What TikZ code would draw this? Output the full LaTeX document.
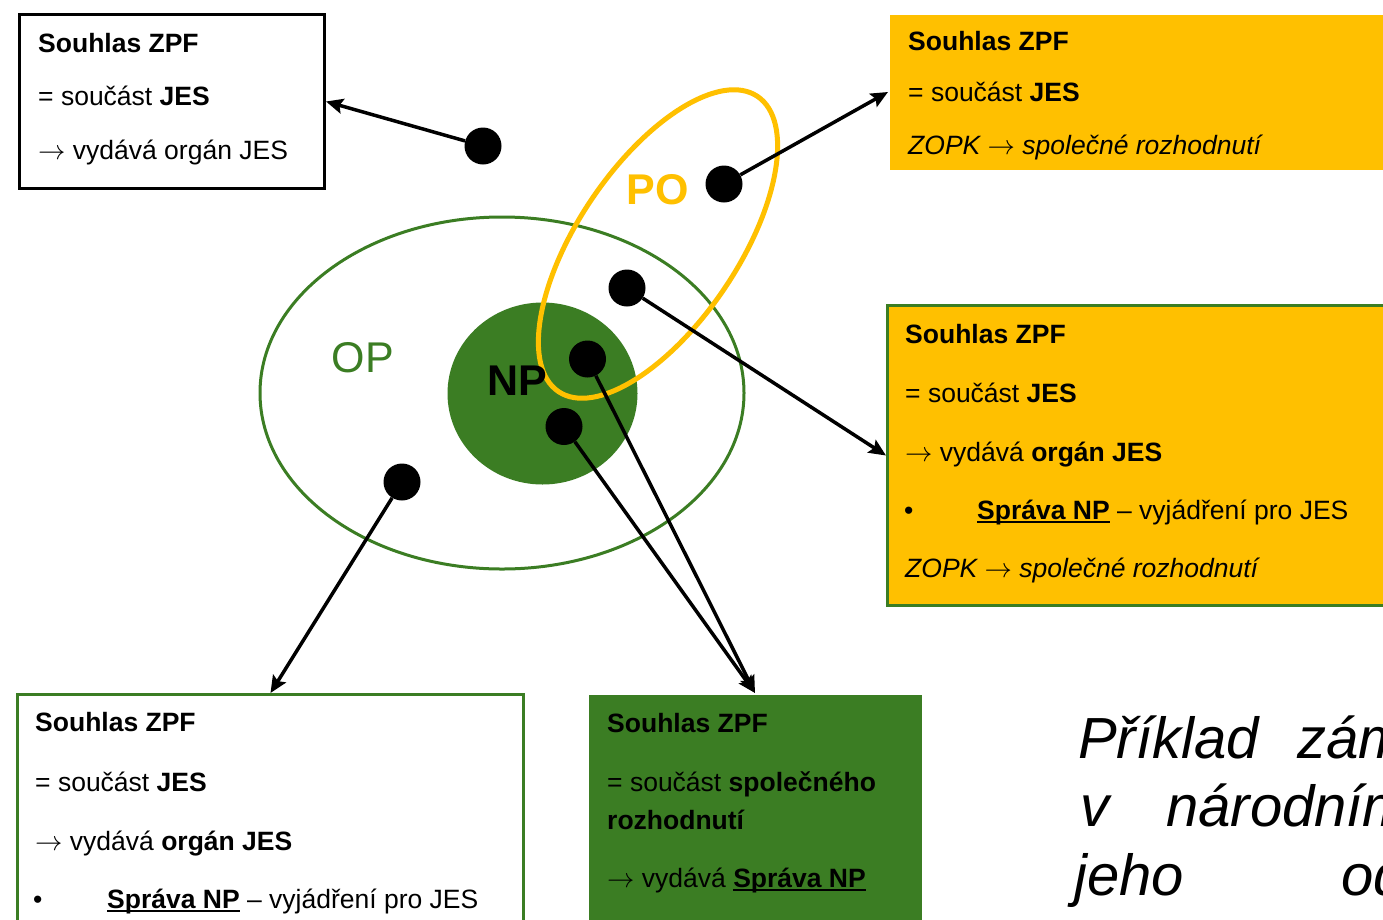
\documentclass[tikz,border=0pt]{standalone}
\usepackage{fontspec}
\setmainfont{Liberation Sans}
\usetikzlibrary{arrows.meta}

\definecolor{zpfyellow}{HTML}{FFC000}
\definecolor{zpfgreen}{HTML}{3B7D23}

% underlined bold name of the park office
\newcommand\spravanp{\setbox0=\hbox{\textbf{Správa NP}}\rlap{\rule[-3.5pt]{\wd0}{2pt}}\box0}
\newcommand\toarr{\scalebox{1.1}{$\rightarrow$}}

\tikzset{
  dot/.style={circle, fill=black, minimum size=37pt, inner sep=0pt},
  arr/.style={-{Stealth[length=17pt, width=15pt, inset=3pt]}, line width=3.5pt},
  zpfbox/.style={rectangle, line width=3pt, anchor=north west, inner sep=0pt},
  txt/.style={anchor=base west, inner sep=0pt, font=\fontsize{26.5}{30}\selectfont},
  bigtxt/.style={anchor=base west, inner sep=0pt, font=\fontsize{58}{68}\selectfont\itshape},
  lbl/.style={inner sep=0pt, font=\fontsize{43}{50}\selectfont}
}

\begin{document}
\begin{tikzpicture}[x=1pt, y=-1pt]
    \clip (0,0) rectangle (1383,919);
    \fill[white] (0,0) rectangle (1383,919);

    % areas
    \draw[zpfgreen, line width=3pt] (502,393) ellipse [x radius=242, y radius=176];
    \fill[zpfgreen] (542.5,393.5) ellipse [x radius=95, y radius=91];
    \draw[zpfyellow, line width=5pt, rotate around={56:(658,244)}] (658,244) ellipse [x radius=178, y radius=80];

    \node[lbl, text=zpfgreen] (op) at (363,358) {OP};
    \node[lbl, font=\fontsize{43}{50}\selectfont\bfseries] (np) at (517,381) {NP};
    \node[lbl, text=zpfyellow, font=\fontsize{43}{50}\selectfont\bfseries] (po) at (658,190) {PO};

    % boxes
    \node[zpfbox, draw=black, fill=white, minimum width=305pt, minimum height=174pt] (boxA) at (18,13) {};
    \node[zpfbox, fill=zpfyellow, minimum width=520pt, minimum height=155pt] (boxB) at (888,13) {};
    \node[zpfbox, draw=zpfgreen, fill=zpfyellow, minimum width=520pt, minimum height=300pt] (boxC) at (886,304) {};
    \node[zpfbox, draw=zpfgreen, fill=white, minimum width=506pt, minimum height=260pt] (boxD) at (16,693) {};
    \node[zpfbox, fill=zpfgreen, minimum width=333pt, minimum height=260pt] (boxE) at (587,693) {};

    \node[txt] (a1) at (38,52) {\textbf{Souhlas ZPF}};
    \node[txt] (a2) at (38,105) {= součást \textbf{JES}};
    \node[txt] (a3) at (38,159) {\toarr{} vydává orgán JES};

    \node[txt] (b1) at (908,50) {\textbf{Souhlas ZPF}};
    \node[txt] (b2) at (908,101) {= součást \textbf{JES}};
    \node[txt] (b3) at (908,154) {\textit{ZOPK \toarr{} společné rozhodnutí}};

    \node[txt] (c1) at (905,343) {\textbf{Souhlas ZPF}};
    \node[txt] (c2) at (905,402) {= součást \textbf{JES}};
    \node[txt] (c3) at (905,461) {\toarr{} vydává \textbf{orgán JES}};
    \node[txt] (c4) at (904,519) {\textbullet};
    \node[txt] (c5) at (977,519) {\spravanp{} – vyjádření pro JES};
    \node[txt] (c6) at (905,577) {\textit{ZOPK \toarr{} společné rozhodnutí}};

    \node[txt] (d1) at (35,731) {\textbf{Souhlas ZPF}};
    \node[txt] (d2) at (35,791) {= součást \textbf{JES}};
    \node[txt] (d3) at (35,850) {\toarr{} vydává \textbf{orgán JES}};
    \node[txt] (d4) at (33,908) {\textbullet};
    \node[txt] (d5) at (107,908) {\spravanp{} – vyjádření pro JES};

    \node[txt] (e1) at (607,732) {\textbf{Souhlas ZPF}};
    \node[txt] (e2) at (607,791) {= součást \textbf{společného}};
    \node[txt] (e3) at (607,829) {\textbf{rozhodnutí}};
    \node[txt] (e4) at (607,887) {\toarr{} vydává \spravanp};

    % caption, cut by the edge
    \node[bigtxt] (t1) at (1078,758) {Příklad};
    \node[bigtxt] (t2) at (1297,758) {zám};
    \node[bigtxt] (t3) at (1080,826) {v};
    \node[bigtxt] (t4) at (1166,826) {národním};
    \node[bigtxt] (t5) at (1074,895) {jeho};
    \node[bigtxt] (t6) at (1341,895) {od};

    % points
    \node[dot] (p1) at (483,146) {};
    \node[dot] (p2) at (724,184) {};
    \node[dot] (p3) at (627,288) {};
    \node[dot] (p4) at (587.5,359) {};
    \node[dot] (p5) at (564,426.5) {};
    \node[dot] (p6) at (402,482) {};

    \draw[arr] (p1) -- (boxA.east);
    \draw[arr] (p2) -- (boxB.west);
    \draw[arr] (p3) -- (boxC.west);
    \draw[arr] (p6) -- (boxD.north);
    \draw[arr] (p4) -- (boxE.north);
    \draw[arr] (p5) -- (boxE.north);
\end{tikzpicture}
\end{document}
